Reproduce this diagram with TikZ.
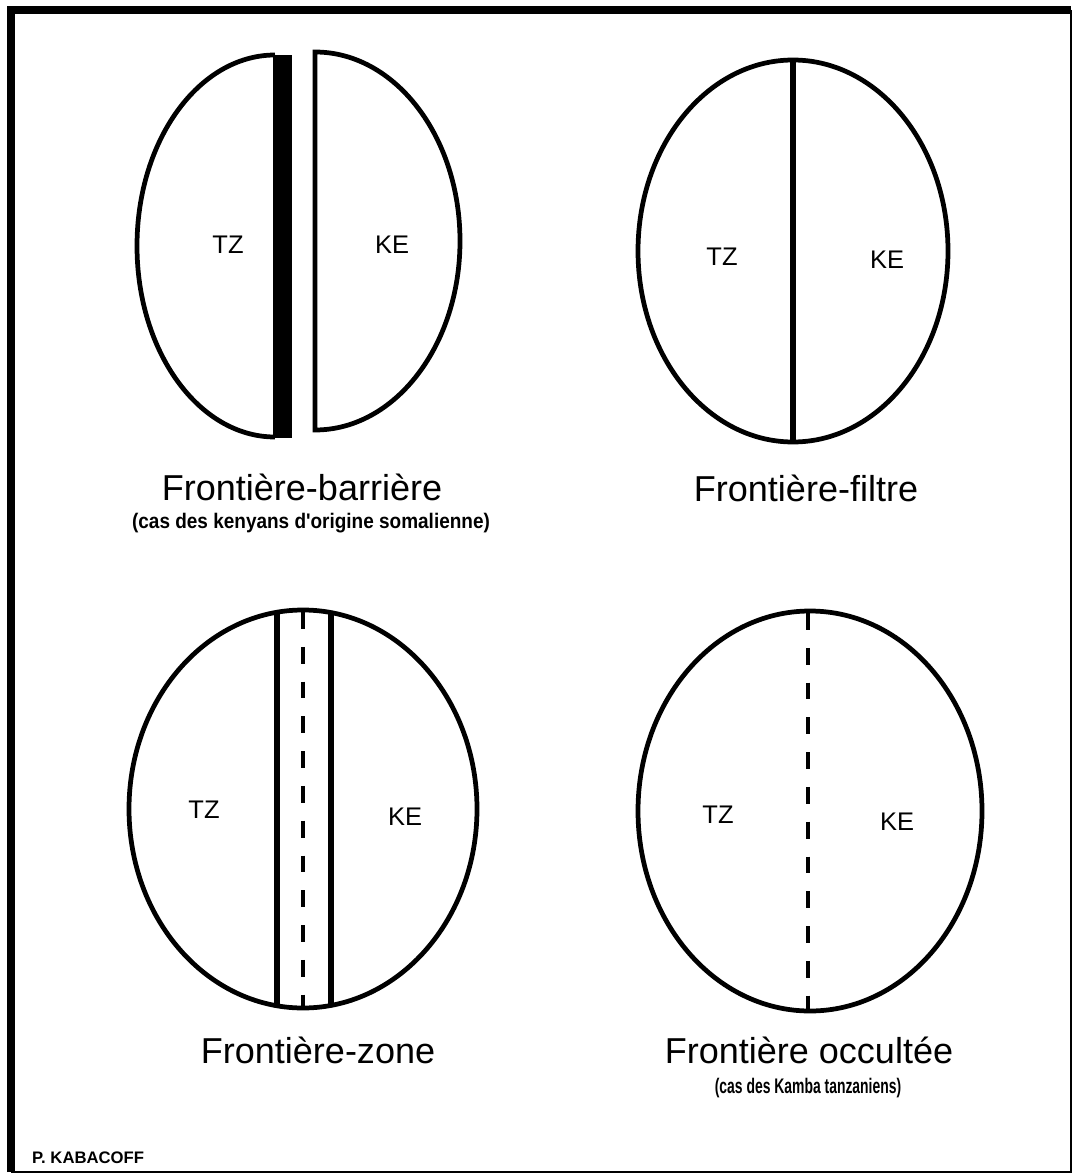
\documentclass[tikz,border=0pt]{standalone}
\usepackage{fontspec}
\setmainfont{Liberation Sans}
\usepackage{graphicx}

\begin{document}
\begin{tikzpicture}[
  x=0.02cm, y=-0.02cm,
  frame/.style={line width=4pt},
  thinframe/.style={line width=1.1pt},
  outline/.style={line width=2.7pt},
  bound/.style={line width=3.6pt},
  dashbound/.style={line width=2.8pt, dash pattern=on 9.6pt off 10.2pt},
  lbl/.style={font=\fontsize{14.5}{16}\selectfont},
  heading/.style={font=\fontsize{20.5}{24}\selectfont},
  note/.style={font=\bfseries\fontsize{12}{14}\selectfont}
]
\useasboundingbox (0,0) rectangle (1075,1175);
\draw[frame] (11,1172) -- (11,10) -- (1071,10);
\draw[thinframe] (1071,10) -- (1071,1172) -- (11,1172);

% frontiere-barriere
\draw[outline] (275,55) arc[start angle=270, end angle=90, x radius=138, y radius=191];
\fill (273,55) rectangle (292,438);
\draw[outline] (315,52) arc[start angle=270, end angle=450, x radius=145, y radius=189] -- cycle;
\node[lbl] (tzbar) at (228,245) {TZ};
\node[lbl] (kebar) at (392,245) {KE};
\node[heading] (titlebar) at (302,487) {Frontière-barrière};
\node[note] (notebar) at (311,523) {\scalebox{0.9}[1]{(cas des kenyans d\textquotesingle origine somalienne)}};

% frontiere-filtre
\draw[outline] (793,251) ellipse[x radius=155, y radius=191];
\draw[bound] (793,60) -- (793,443);
\node[lbl] (tzfil) at (722,257) {TZ};
\node[lbl] (kefil) at (887,260) {KE};
\node[heading] (titlefil) at (806,488) {Frontière-filtre};

% frontiere-zone
\begin{scope}
  \clip (303,809) ellipse[x radius=174, y radius=199];
  \draw[bound] (277,600) -- (277,1020);
  \draw[bound] (331,600) -- (331,1020);
\end{scope}
\draw[dashbound] (303,612) -- (303,1006);
\draw[outline] (303,809) ellipse[x radius=174, y radius=199];
\node[lbl] (tzzone) at (204,810) {TZ};
\node[lbl] (kezone) at (405,817) {KE};
\node[heading] (titlezone) at (318,1050) {Frontière-zone};

% frontiere occultee
\draw[dashbound] (808,613) -- (808,1010);
\draw[outline] (810,811) ellipse[x radius=172, y radius=200];
\node[lbl] (tzocc) at (718,815) {TZ};
\node[lbl] (keocc) at (897,822) {KE};
\node[heading] (titleocc) at (809,1050) {Frontière occultée};
\node[note] (noteocc) at (808,1088) {\scalebox{0.66}[1]{(cas des Kamba tanzaniens)}};

\node[font=\bfseries\fontsize{9.5}{11}\selectfont, anchor=west] (author) at (26,1158) {P. KABACOFF};
\end{tikzpicture}
\end{document}
